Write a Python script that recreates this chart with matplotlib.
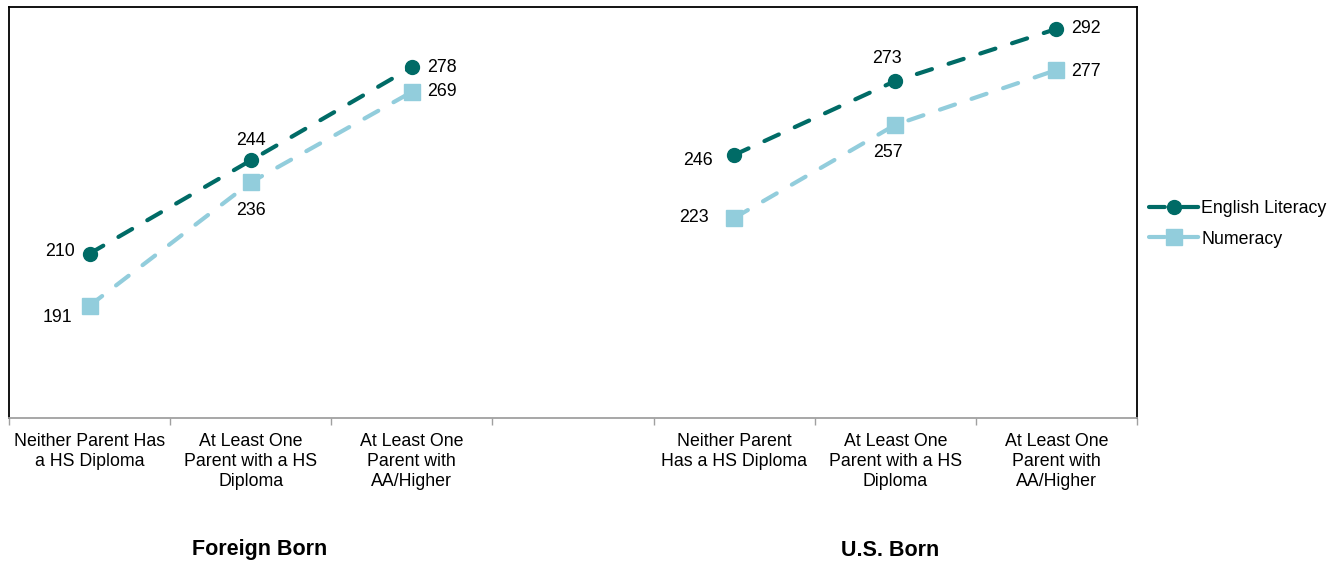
import matplotlib
matplotlib.use("Agg")
import matplotlib.pyplot as plt
import numpy as np

plt.rcParams['font.family'] = ['Liberation Sans', 'DejaVu Sans']

categories = ["Neither Parent Has\na HS Diploma", "At Least One\nParent with a HS\nDiploma", "At Least One\nParent with\nAA/Higher", "",
              "Neither Parent\nHas a HS Diploma", "At Least One\nParent with a HS\nDiploma", "At Least One\nParent with\nAA/Higher"]
english = [210, 244, 278, np.nan, 246, 273, 292]
numeracy = [191, 236, 269, np.nan, 223, 257, 277]
groups = ["Foreign Born", "U.S. Born"]

dark = "#006B66"
light = "#92CDDC"

fig = plt.figure(figsize=(13.41, 5.64), dpi=100)
ax = fig.add_axes([9/1341, 1-418/564, (1137-9)/1341, (418-7)/564])

x = np.arange(len(categories))
ls = (0, (3.8, 4.2))
ax.plot(x, english, color=dark, lw=3, linestyle=ls, dash_capstyle='round', solid_capstyle='round',
        marker='o', markersize=10, label="English Literacy", zorder=3)
ax.plot(x, numeracy, color=light, lw=3, linestyle=ls, dash_capstyle='round', solid_capstyle='round',
        marker='s', markersize=12, label="Numeracy", zorder=3)

ax.set_xlim(-0.5, 6.5)
ax.set_ylim(150, 300)
ax.set_yticks([])
ax.set_xticks(x)
ax.set_xticklabels(categories, fontsize=12.8, linespacing=1.22)
ax.tick_params(axis='x', which='major', length=0, pad=11)
ax.set_xticks(np.arange(-0.5, 7, 1), minor=True)
ax.tick_params(axis='x', which='minor', length=5, color='#A0A0A0', width=1)
for s in ['left', 'top', 'right']:
    ax.spines[s].set_color('black')
    ax.spines[s].set_linewidth(1.3)
ax.spines['bottom'].set_color('#A0A0A0')
ax.spines['bottom'].set_linewidth(1.3)

# data label offsets in px (dx, dy)
eng_off = [(-30, 2), (0, 20), (30, 0), None, (-36, -6), (-8, 22), (30, 0)]
num_off = [(-32, -12), (0, -28), (30, 0), None, (-40, 0), (-7, -28), (30, -1)]
for xi, v, o in zip(x, english, eng_off):
    if o is None:
        continue
    ax.annotate(f"{v:.0f}", (xi, v), xytext=(o[0]*0.72, o[1]*0.72), textcoords='offset points',
                ha='center', va='center', fontsize=12.8)
for xi, v, o in zip(x, numeracy, num_off):
    if o is None:
        continue
    ax.annotate(f"{v:.0f}", (xi, v), xytext=(o[0]*0.72, o[1]*0.72), textcoords='offset points',
                ha='center', va='center', fontsize=12.8)

fig.text(260/1341, 1-550/564, groups[0], ha='center', va='center', fontsize=15.5, fontweight='bold')
fig.text(890/1341, 1-550/564, groups[1], ha='center', va='center', fontsize=15.5, fontweight='bold')

leg = fig.legend(loc='center left', bbox_to_anchor=(1133/1341, 1-224/564), frameon=False, fontsize=12.8,
                 handlelength=2.85, handletextpad=0.1, labelspacing=0.75)

fig.savefig("out.png", dpi=100)
